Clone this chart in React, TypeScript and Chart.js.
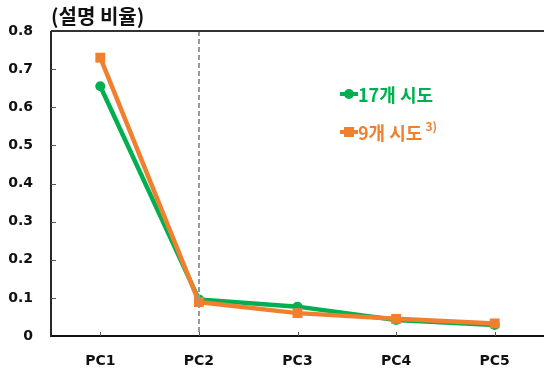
import React, { useEffect, useRef } from "react";
import { Chart, registerables } from "chart.js";

Chart.register(...registerables);

const categories = ["PC1", "PC2", "PC3", "PC4", "PC5"];
const seriesNames = ["17개 시도", "9개 시도"];
const sido17 = [0.655, 0.096, 0.077, 0.042, 0.029];
const sido9 = [0.73, 0.089, 0.06, 0.045, 0.033];
const yTicks = [0, 0.1, 0.2, 0.3, 0.4, 0.5, 0.6, 0.7, 0.8];
const titleText = "(설명 비율)";
const footnoteMark = "3)";
const markerCategory = "PC2";

const GREEN = "#00B050";
const ORANGE = "#F0802F";
const NUM_FONT = "'DejaVu Sans', 'Noto Sans CJK KR', sans-serif";
const KR_FONT = "'Noto Sans CJK KR', 'DejaVu Sans', sans-serif";

const framePlugin = {
  id: "frame",
  afterDatasetsDraw(chart: any) {
    const { ctx, chartArea, scales } = chart;
    const { left, right, top, bottom } = chartArea;
    const x = scales.x;
    const y = scales.y;
    ctx.save();

    // vertical dashed reference at the chosen component
    const xd = Math.round(x.getPixelForValue(categories.indexOf(markerCategory)));
    ctx.strokeStyle = "#9A9A9A";
    ctx.lineWidth = 2;
    ctx.setLineDash([5, 3]);
    ctx.beginPath();
    ctx.moveTo(xd, top);
    ctx.lineTo(xd, bottom);
    ctx.stroke();
    ctx.setLineDash([]);

    // axes and top border
    ctx.strokeStyle = "#111";
    ctx.lineWidth = 1.8;
    ctx.beginPath();
    ctx.moveTo(left, top);
    ctx.lineTo(left, bottom);
    ctx.lineTo(right, bottom);
    ctx.stroke();
    ctx.strokeStyle = "#333";
    ctx.lineWidth = 2;
    ctx.beginPath();
    ctx.moveTo(left, top);
    ctx.lineTo(right, top);
    ctx.stroke();

    // inward tick marks
    ctx.strokeStyle = "#555";
    ctx.lineWidth = 1;
    yTicks.slice(1, -1).forEach((v) => {
      const py = Math.round(y.getPixelForValue(v)) + 0.5;
      ctx.beginPath();
      ctx.moveTo(left, py);
      ctx.lineTo(left + 5, py);
      ctx.stroke();
    });
    categories.forEach((_, i) => {
      const px = Math.round(x.getPixelForValue(i)) + 0.5;
      ctx.beginPath();
      ctx.moveTo(px, bottom);
      ctx.lineTo(px, bottom - 4);
      ctx.stroke();
    });
    ctx.restore();
  },
  afterDraw(chart: any) {
    const { ctx } = chart;
    ctx.save();

    // title
    ctx.fillStyle = "#111";
    ctx.font = `bold 20px ${KR_FONT}`;
    ctx.textBaseline = "middle";
    ctx.textAlign = "left";
    ctx.fillText(titleText, 51, 16);

    // legend
    const rows = [
      { name: seriesNames[0], color: GREEN, shape: "circle", y: 94, sup: "" },
      { name: seriesNames[1], color: ORANGE, shape: "square", y: 132, sup: footnoteMark },
    ];
    rows.forEach((r) => {
      ctx.strokeStyle = r.color;
      ctx.fillStyle = r.color;
      ctx.lineWidth = 4;
      ctx.beginPath();
      ctx.moveTo(340, r.y);
      ctx.lineTo(358, r.y);
      ctx.stroke();
      if (r.shape === "circle") {
        ctx.beginPath();
        ctx.arc(349, r.y, 5, 0, Math.PI * 2);
        ctx.fill();
      } else {
        ctx.fillRect(344, r.y - 5, 10, 10);
      }
      ctx.font = `bold 18px ${KR_FONT}`;
      ctx.textBaseline = "middle";
      ctx.fillText(r.name, 358, r.y + 1);
      if (r.sup) {
        const w = ctx.measureText(r.name).width;
        ctx.font = `bold 12px ${KR_FONT}`;
        ctx.fillText(r.sup, 358 + w + 3, r.y - 6);
      }
    });
    ctx.restore();
  },
};

export default function App() {
  const ref = useRef<HTMLCanvasElement>(null);

  useEffect(() => {
    if (!ref.current) return;
    const chart = new Chart(ref.current, {
      type: "line",
      data: {
        labels: categories,
        datasets: [
          {
            label: seriesNames[0],
            data: sido17,
            order: 1,
            borderColor: GREEN,
            backgroundColor: GREEN,
            borderWidth: 4.5,
            pointStyle: "circle",
            pointRadius: 5,
            pointBorderWidth: 0,
            tension: 0,
          },
          {
            label: seriesNames[1],
            data: sido9,
            order: 0,
            borderColor: ORANGE,
            backgroundColor: ORANGE,
            borderWidth: 4.5,
            pointStyle: "rect",
            pointRadius: 7,
            pointBorderWidth: 0,
            tension: 0,
          },
        ],
      },
      options: {
        responsive: false,
        animation: false,
        devicePixelRatio: 1,
        layout: { padding: { top: 31, left: 0, right: 0, bottom: 0 } },
        plugins: {
          legend: { display: false },
          tooltip: { enabled: false },
          title: { display: false },
        },
        scales: {
          x: {
            offset: true,
            grid: { display: false },
            border: { display: false },
            ticks: {
              color: "#111",
              padding: 9,
              font: { family: NUM_FONT, size: 14, weight: "bold" },
            },
            afterFit: (s: any) => {
              s.height = 33;
            },
          },
          y: {
            min: 0,
            max: 0.8,
            grid: { display: false },
            border: { display: false },
            afterBuildTicks: (s: any) => {
              s.ticks = yTicks.map((v) => ({ value: v }));
            },
            ticks: {
              color: "#111",
              padding: 10,
              font: { family: NUM_FONT, size: 14, weight: "bold" },
              callback: (v: any) => String(Math.round(Number(v) * 10) / 10),
            },
            afterFit: (s: any) => {
              s.width = 51;
            },
          },
        },
      },
      plugins: [framePlugin],
    });
    return () => chart.destroy();
  }, []);

  return (
    <div
      style={{
        position: "fixed",
        left: 0,
        top: 0,
        width: 547,
        height: 369,
        overflow: "hidden",
        background: "#fff",
      }}
    >
      <canvas ref={ref} width={551} height={369} style={{ display: "block" }} />
    </div>
  );
}
